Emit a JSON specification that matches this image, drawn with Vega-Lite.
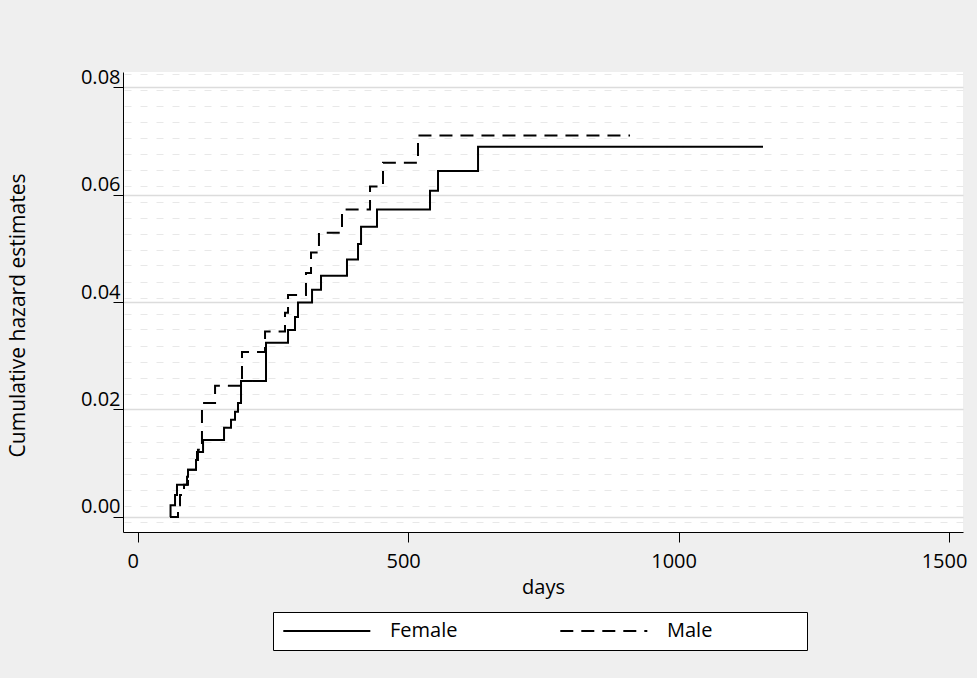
{
  "$schema": "https://vega.github.io/schema/vega-lite/v6.json",
  "width": 840,
  "height": 460,
  "autosize": {"type": "none"},
  "padding": {"left": 123, "top": 72, "right": 14, "bottom": 146},
  "background": "#efefef",
  "config": {
    "view": {"fill": "white", "stroke": null},
    "font": "Open Sans",
    "axis": {"domainColor": "black", "tickColor": "black", "labelColor": "black", "titleColor": "black", "labelFont": "Open Sans", "titleFont": "Open Sans", "titleFontWeight": "normal"}
  },
  "data": {
    "values": [
      {"sex": "Female", "day": 59.7, "hazard": 0},
      {"sex": "Female", "day": 60.7, "hazard": 0.0022},
      {"sex": "Female", "day": 69.0, "hazard": 0.0041},
      {"sex": "Female", "day": 72.6, "hazard": 0.0060},
      {"sex": "Female", "day": 91.2, "hazard": 0.0075},
      {"sex": "Female", "day": 93.0, "hazard": 0.0088},
      {"sex": "Female", "day": 107.8, "hazard": 0.0106},
      {"sex": "Female", "day": 109.6, "hazard": 0.0121},
      {"sex": "Female", "day": 120.8, "hazard": 0.0143},
      {"sex": "Female", "day": 159.6, "hazard": 0.0166},
      {"sex": "Female", "day": 172.5, "hazard": 0.0181},
      {"sex": "Female", "day": 179.9, "hazard": 0.0196},
      {"sex": "Female", "day": 185.4, "hazard": 0.0212},
      {"sex": "Female", "day": 191.0, "hazard": 0.0253},
      {"sex": "Female", "day": 237.2, "hazard": 0.0324},
      {"sex": "Female", "day": 277.9, "hazard": 0.0348},
      {"sex": "Female", "day": 290.8, "hazard": 0.0372},
      {"sex": "Female", "day": 296.3, "hazard": 0.0399},
      {"sex": "Female", "day": 322.3, "hazard": 0.0423},
      {"sex": "Female", "day": 338.9, "hazard": 0.0449},
      {"sex": "Female", "day": 386.9, "hazard": 0.0479},
      {"sex": "Female", "day": 407.3, "hazard": 0.0508},
      {"sex": "Female", "day": 412.9, "hazard": 0.0540},
      {"sex": "Female", "day": 442.4, "hazard": 0.0572},
      {"sex": "Female", "day": 540.4, "hazard": 0.0607},
      {"sex": "Female", "day": 555.2, "hazard": 0.0644},
      {"sex": "Female", "day": 629.2, "hazard": 0.0689},
      {"sex": "Female", "day": 1156.1, "hazard": 0.0689},
      {"sex": "Male", "day": 59.7, "hazard": 0},
      {"sex": "Male", "day": 74.5, "hazard": 0.0022},
      {"sex": "Male", "day": 78.2, "hazard": 0.0041},
      {"sex": "Male", "day": 85.6, "hazard": 0.0060},
      {"sex": "Male", "day": 93.0, "hazard": 0.0088},
      {"sex": "Male", "day": 107.8, "hazard": 0.0106},
      {"sex": "Male", "day": 111.4, "hazard": 0.0125},
      {"sex": "Male", "day": 118.8, "hazard": 0.0212},
      {"sex": "Male", "day": 143.0, "hazard": 0.0244},
      {"sex": "Male", "day": 192.8, "hazard": 0.0307},
      {"sex": "Male", "day": 235.4, "hazard": 0.0345},
      {"sex": "Male", "day": 272.3, "hazard": 0.0380},
      {"sex": "Male", "day": 277.9, "hazard": 0.0413},
      {"sex": "Male", "day": 311.1, "hazard": 0.0454},
      {"sex": "Male", "day": 320.4, "hazard": 0.0492},
      {"sex": "Male", "day": 335.1, "hazard": 0.0529},
      {"sex": "Male", "day": 377.7, "hazard": 0.0572},
      {"sex": "Male", "day": 429.5, "hazard": 0.0615},
      {"sex": "Male", "day": 453.5, "hazard": 0.0659},
      {"sex": "Male", "day": 518.2, "hazard": 0.0710},
      {"sex": "Male", "day": 910.2, "hazard": 0.0710}
    ]
  },
  "layer": [
    {
      "mark": {"type": "rule", "opacity": 0},
      "encoding": {
        "y": {
          "field": "hazard", "type": "quantitative",
          "scale": {"domain": [-0.0028, 0.0828], "nice": false, "zero": false},
          "axis": {
            "orient": "right", "title": null, "labels": false, "ticks": false, "domain": false,
            "grid": true, "gridColor": "#e8e8e8", "gridWidth": 1, "gridDash": [7, 9],
            "values": [0.0825, 0.0795, 0.0765, 0.0735, 0.0705, 0.0676, 0.0646, 0.0616, 0.0587, 0.0557, 0.0527, 0.0497, 0.0468, 0.0438, 0.0408, 0.0378, 0.0349, 0.0319, 0.0289, 0.0259, 0.0229, 0.0200, 0.0170, 0.0140, 0.0110, 0.0080, 0.0051, 0.0021, -0.0009]
          }
        }
      }
    },
    {
      "mark": {"type": "line", "interpolate": "step-after", "strokeWidth": 2, "color": "black"},
      "encoding": {
        "x": {
          "field": "day", "type": "quantitative",
          "scale": {"domain": [-27.2, 1525.8], "nice": false, "zero": false},
          "axis": {"values": [0, 500, 1000, 1500], "format": "d", "grid": false, "tickSize": 10, "labelPadding": 9.5, "labelOffset": -5, "labelFontSize": 20, "title": "days", "titleFontSize": 20, "titleX": 420, "titleY": 55, "titleBaseline": "middle", "titleAlign": "center"}
        },
        "y": {
          "field": "hazard", "type": "quantitative",
          "scale": {"domain": [-0.0028, 0.0828], "nice": false, "zero": false},
          "axis": {"orient": "left", "values": [0, 0.02, 0.04, 0.06, 0.08], "format": ".2f", "grid": true, "gridColor": "#dcdcdc", "gridWidth": 1.5, "tickSize": 10, "labelPadding": -7, "labelOffset": -4, "labelBaseline": "alphabetic", "labelAlign": "right", "labelFontSize": 20, "title": "Cumulative hazard estimates", "titleFontSize": 21, "titleAngle": -90, "titleX": -105, "titleY": 243, "titleBaseline": "middle", "titleAlign": "center"}
        },
        "strokeDash": {
          "field": "sex", "type": "nominal",
          "scale": {"domain": ["Female", "Male"], "range": [[1, 0], [13, 8]]},
          "legend": {
            "title": null, "orient": "none", "legendX": 150, "legendY": 540, "direction": "horizontal",
            "strokeColor": "black", "fillColor": "white", "padding": 9,
            "symbolType": "M-1,0H9", "symbolSize": 303, "symbolStrokeWidth": 2, "symbolStrokeColor": "black", "symbolFillColor": "transparent",
            "labelFontSize": 20, "labelFont": "Open Sans", "labelColor": "black", "labelOffset": 88, "columnPadding": 98,
            "labelExpr": "datum.label == 'Male' ? datum.label + '\u2800\u2800\u2800\u2800\u00a0\u00a0\u2800' : datum.label"
          }
        }
      }
    }
  ],
  "resolve": {"axis": {"y": "independent"}}
}
